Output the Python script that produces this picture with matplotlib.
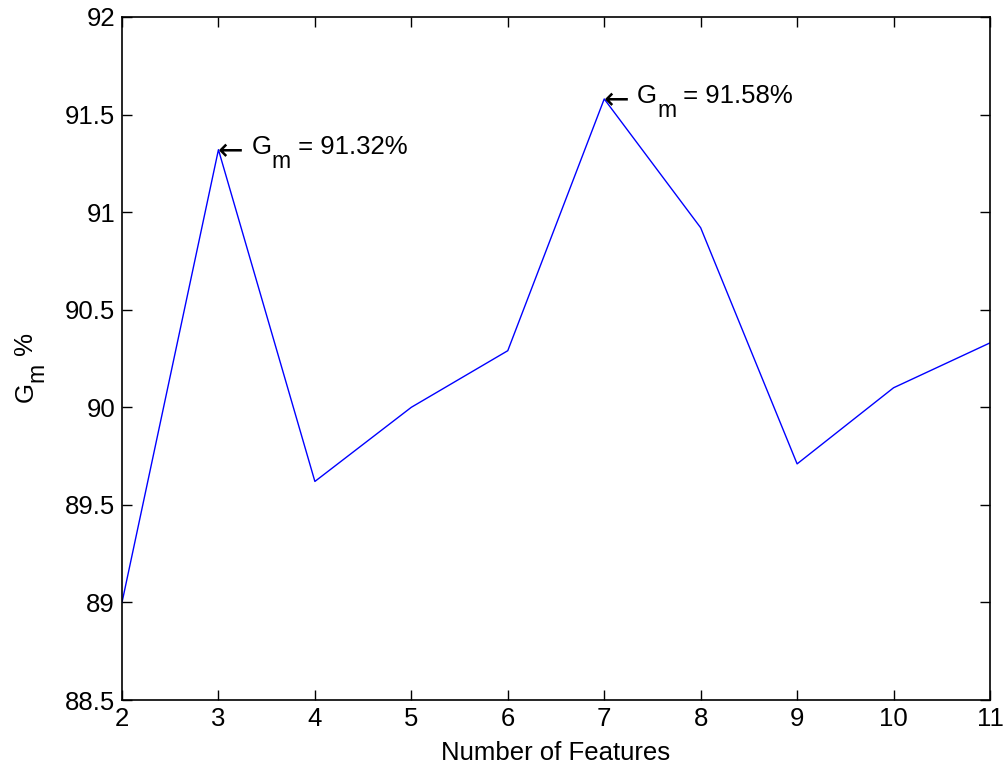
import matplotlib
matplotlib.use("Agg")
import matplotlib.pyplot as plt

plt.rcParams['font.family'] = ['Liberation Sans', 'DejaVu Sans']

n_features = [2, 3, 4, 5, 6, 7, 8, 9, 10, 11]
gm_values = [89.0, 91.32, 89.62, 90.0, 90.29, 91.58, 90.92, 89.71, 90.10, 90.33]
y_ticks = [88.5, 89, 89.5, 90, 90.5, 91, 91.5, 92]
peaks = [(3, 91.32), (7, 91.58)]

FS = 18.5
FS_SUB = 16.5

fig = plt.figure(figsize=(10.05, 7.73), dpi=100)
ax = fig.add_axes([122/1005, 1-700/773, (990-122)/1005, (700-17)/773])
ax.plot(n_features, gm_values, color='#0000ff', linewidth=1.0)
ax.set_xlim(2, 11)
ax.set_ylim(88.5, 92)
ax.set_xticks(n_features)
ax.set_yticks(y_ticks)
ax.set_yticklabels([f"{v:g}" for v in y_ticks])
ax.tick_params(direction='in', length=7, width=1, labelsize=FS, top=True, right=True, pad=5)
for s in ax.spines.values():
    s.set_linewidth(1.2)
ax.set_xlabel("Number of Features", fontsize=FS, labelpad=7)

renderer = fig.canvas.get_renderer()
H = 773

# y label "G_m %" (rotated), positioned in figure pixels
def fig_text(xp, yp_top, s, size):
    return fig.text(xp / 1005, 1 - yp_top / H, s, fontsize=size, rotation=90,
                    rotation_mode='anchor', ha='left', va='baseline')

g = fig_text(33, 402, "G", FS)
ext = g.get_window_extent(renderer)
m = fig_text(43, H - ext.y1, "m", FS_SUB)
ext = m.get_window_extent(renderer)
fig_text(33, H - ext.y1, " %", FS)

# annotations
for x, y in peaks:
    ax.annotate("\u2190", xy=(x, y), xytext=(-1, -10), textcoords='offset pixels',
                fontsize=22, family='DejaVu Sans', ha='left', va='baseline')
    tg = ax.annotate("G", xy=(x, y), xytext=(33, -4), textcoords='offset pixels',
                     fontsize=FS, ha='left', va='baseline')
    px = ax.transData.transform((x, y))[0]
    e = tg.get_window_extent(renderer)
    tm = ax.annotate("m", xy=(x, y), xytext=(e.x1 - px, -18), textcoords='offset pixels',
                     fontsize=FS_SUB, ha='left', va='baseline')
    e = tm.get_window_extent(renderer)
    ax.annotate(f" = {y:.2f}%", xy=(x, y), xytext=(e.x1 - px, -4), textcoords='offset pixels',
                fontsize=FS, ha='left', va='baseline')

fig.savefig("out.png", dpi=100)
